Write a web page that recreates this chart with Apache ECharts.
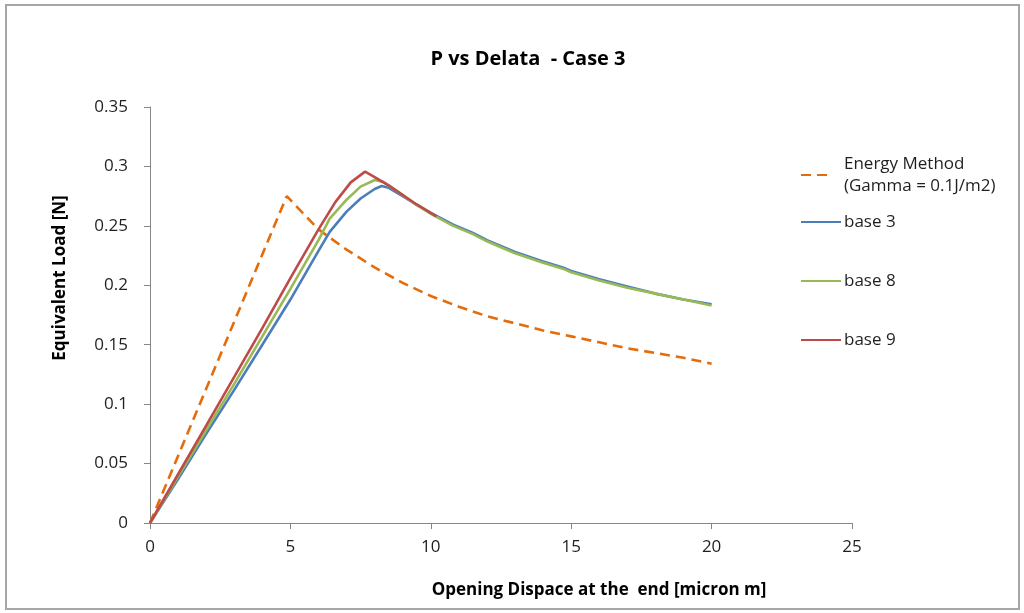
<!DOCTYPE html>
<html>
<head>
<meta charset="utf-8">
<script src="https://cdn.jsdelivr.net/npm/echarts@6/dist/echarts.min.js"></script>
<style>
  html, body { margin: 0; padding: 0; background: #ffffff; }
  #chart { width: 1024px; height: 613px; }
</style>
</head>
<body>
<div id="chart"></div>
<script>
// Load vs. opening displacement at the end (micron m)
const energyX = [0, 4.87, 6, 7, 8, 9, 10, 11, 12, 13, 14, 15, 16, 17, 18, 19, 20];
const energyY = [0, 0.275, 0.247, 0.230, 0.215, 0.202, 0.191, 0.182, 0.174, 0.168, 0.162, 0.157, 0.152, 0.147, 0.143, 0.139, 0.134];

const base3X = [0, 1, 2, 3, 4, 5, 6, 6.4, 7, 7.5, 8, 8.25, 8.5, 9, 9.4, 10, 10.8, 11.5, 12, 12.6, 13, 14, 14.7, 15, 16, 17, 18, 19, 20];
const base3Y = [0, 0.037, 0.075, 0.112, 0.150, 0.188, 0.229, 0.245, 0.262, 0.273, 0.281, 0.2835, 0.282, 0.275, 0.269, 0.261, 0.251, 0.244, 0.238, 0.232, 0.228, 0.220, 0.215, 0.212, 0.205, 0.199, 0.193, 0.188, 0.184];

const base8X = [0, 1, 2, 3, 4, 5, 6, 6.4, 7, 7.5, 8, 8.3, 9, 9.4, 10, 10.8, 11.5, 12, 12.6, 13, 14, 14.7, 15, 16, 17, 18, 19, 20];
const base8Y = [0, 0.039, 0.078, 0.117, 0.157, 0.197, 0.238, 0.256, 0.272, 0.283, 0.2886, 0.287, 0.276, 0.269, 0.260, 0.250, 0.243, 0.237, 0.231, 0.227, 0.219, 0.214, 0.211, 0.204, 0.198, 0.193, 0.188, 0.183];

const base9X = [0, 1, 2, 3, 4, 5, 6, 6.6, 7.15, 7.66, 8, 8.5, 9, 9.5, 10.2];
const base9Y = [0, 0.041, 0.082, 0.123, 0.164, 0.206, 0.247, 0.270, 0.2866, 0.2956, 0.291, 0.284, 0.276, 0.268, 0.258];

const xTicks = { min: 0, max: 25, interval: 5 };
const yTicks = { min: 0, max: 0.35, interval: 0.05 };

const names = ['Energy Method\n(Gamma = 0.1J/m2)', 'base 3', 'base 8', 'base 9'];
const colors = ['#E46C0A', '#4A7EBB', '#98B954', '#BE4B48'];

const pairs = (xs, ys) => xs.map((x, i) => [x, ys[i]]);

const FONT = '"Open Sans", "Noto Sans", sans-serif';
const axisColor = '#868686';
const textColor = '#1f1f1f';

function lineSeries(name, xs, ys, color, dashed) {
  return {
    name: name,
    type: 'line',
    data: pairs(xs, ys),
    showSymbol: false,
    symbol: 'none',
    smooth: false,
    animation: false,
    lineStyle: { color: color, width: 2.6, type: dashed ? [10, 6] : 'solid' },
    itemStyle: { color: color }
  };
}

function legendAt(name, top, iconWidth, extra) {
  return Object.assign({
    data: [name],
    left: 800,
    top: top,
    padding: 0,
    itemWidth: iconWidth,
    itemHeight: 14,
    itemGap: 0,
    selectedMode: false,
    // only the line stroke is shown in the key, no marker
    itemStyle: { opacity: 0 },
    textStyle: { fontFamily: FONT, fontSize: 17, color: textColor, lineHeight: 22, padding: [0, 0, 0, 843 - 805 - iconWidth] }
  }, extra || {});
}

const chart = echarts.init(document.getElementById('chart'), null, { renderer: 'canvas' });
chart.setOption({
  backgroundColor: '#ffffff',
  animation: false,
  title: {
    text: 'P vs Delata  - Case 3',
    left: 523,
    top: 44,
    textAlign: 'center',
    textStyle: { fontFamily: FONT, fontSize: 20, fontWeight: 'bold', color: '#000000' }
  },
  grid: { left: 150, right: 172, top: 107, bottom: 90, containLabel: false },
  xAxis: {
    type: 'value',
    min: xTicks.min, max: xTicks.max, interval: xTicks.interval,
    axisLine: { lineStyle: { color: axisColor, width: 1 } },
    axisTick: { show: true, length: 6, inside: false, lineStyle: { color: axisColor } },
    axisLabel: { margin: 16, fontFamily: FONT, fontSize: 17, color: textColor },
    splitLine: { show: false }
  },
  yAxis: {
    type: 'value',
    min: yTicks.min, max: yTicks.max, interval: yTicks.interval,
    axisLine: { show: true, lineStyle: { color: axisColor, width: 1 } },
    axisTick: { show: true, length: 6, inside: false, lineStyle: { color: axisColor } },
    axisLabel: { margin: 22, fontFamily: FONT, fontSize: 17, color: textColor },
    splitLine: { show: false }
  },
  legend: [
    legendAt(names[0], 142, 30, {
      textStyle: { fontFamily: FONT, fontSize: 17, color: textColor, lineHeight: 22, padding: [22, 0, 0, 8] }
    }),
    legendAt(names[1], 211, 40),
    legendAt(names[2], 270, 40),
    legendAt(names[3], 329, 40)
  ],
  graphic: [
    {
      type: 'rect',
      silent: true,
      shape: { x: 6, y: 5, width: 1013, height: 604 },
      style: { fill: 'none', stroke: '#a6a6a6', lineWidth: 2 }
    },
    {
      type: 'text',
      silent: true,
      x: 60, y: 278,
      rotation: Math.PI / 2,
      style: {
        text: 'Equivalent Load [N]',
        fontFamily: FONT, fontSize: 17, fontWeight: 'bold', fill: '#000000',
        textAlign: 'center', textVerticalAlign: 'middle'
      }
    },
    {
      type: 'text',
      silent: true,
      x: 599, y: 590,
      style: {
        text: 'Opening Dispace at the  end [micron m]',
        fontFamily: FONT, fontSize: 17, fontWeight: 'bold', fill: '#000000',
        textAlign: 'center', textVerticalAlign: 'middle'
      }
    }
  ],
  series: [
    lineSeries(names[0], energyX, energyY, colors[0], true),
    lineSeries(names[1], base3X, base3Y, colors[1], false),
    lineSeries(names[2], base8X, base8Y, colors[2], false),
    lineSeries(names[3], base9X, base9Y, colors[3], false)
  ]
});
</script>
</body>
</html>
